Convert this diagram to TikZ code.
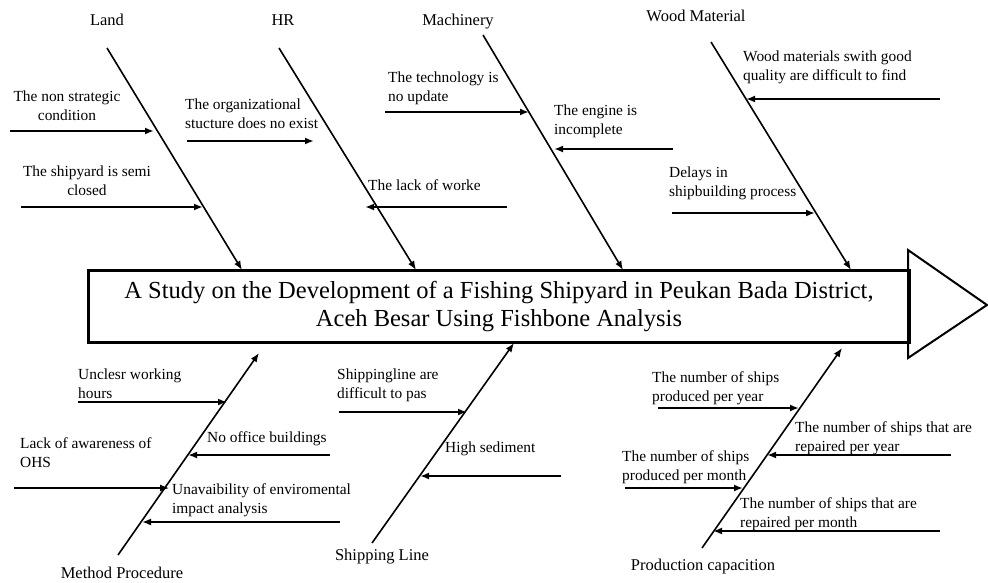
\documentclass[tikz,border=0pt]{standalone}
\usepackage{fontspec}
\setmainfont{Liberation Serif}
\usetikzlibrary{arrows.meta}
\begin{document}
\begin{tikzpicture}[x=1pt,y=-1pt,
  bone/.style={line width=1.6pt,-{Latex[length=9pt,width=7pt]}},
  sub/.style={line width=1.8pt,-{Latex[length=9pt,width=7pt]}},
  lbl/.style={font=\fontsize{15.4}{19}\selectfont,inner sep=0pt,align=left,anchor=west},
  clbl/.style={font=\fontsize{15.4}{19}\selectfont,inner sep=0pt,align=center},
  cat/.style={font=\fontsize{16.5}{19}\selectfont,inner sep=0pt}]
\useasboundingbox (0,0) rectangle (988,583);
% head
\node[draw,line width=3pt,minimum width=821pt,minimum height=72pt,inner sep=0pt,anchor=north west,
  align=center,font=\fontsize{24.5}{28}\selectfont] (box) at (87,269)
  {A Study on the Development of a Fishing Shipyard in Peukan Bada District,\\Aceh Besar Using Fishbone Analysis};
\coordinate (t1) at (908,250); \coordinate (t2) at (987,305); \coordinate (t3) at (908,358);
\draw[line width=2pt,line join=miter] (t1) -- (t2) -- (t3) -- cycle;
% category labels
\node[cat] (land) at (107,20) {Land};
\node[cat] (hr) at (283,20) {HR};
\node[cat] (mach) at (458,22) {Machinery};
\node[cat] (wood) at (696,16) {Wood Material};
\node[cat] (meth) at (122,573) {Method Procedure};
\node[cat] (ship) at (382,557) {Shipping Line};
\node[cat] (prod) at (703,567) {Production capacition};
% bones
\coordinate (b1s) at (107,48);  \coordinate (b1e) at (242,270);
\coordinate (b2s) at (279,48);  \coordinate (b2e) at (416,270);
\coordinate (b3s) at (483,35);  \coordinate (b3e) at (623,270);
\coordinate (b4s) at (711,42);  \coordinate (b4e) at (851,270);
\coordinate (b5s) at (118,555); \coordinate (b5e) at (259,353);
\coordinate (b6s) at (372,543); \coordinate (b6e) at (514,343);
\coordinate (b7s) at (702,548); \coordinate (b7e) at (842,348);
\draw[bone] (b1s) -- (b1e);
\draw[bone] (b2s) -- (b2e);
\draw[bone] (b3s) -- (b3e);
\draw[bone] (b4s) -- (b4e);
\draw[bone] (b5s) -- (b5e);
\draw[bone] (b6s) -- (b6e);
\draw[bone] (b7s) -- (b7e);
% Land causes
\node[clbl] (c1) at (67,106) {The non strategic\\condition};
\coordinate (a1s) at (10,131); \coordinate (a1e) at (154,131);
\draw[sub] (a1s) -- (a1e);
\node[clbl] (c2) at (87,181) {The shipyard is semi\\closed};
\coordinate (a2s) at (21,207); \coordinate (a2e) at (203,207);
\draw[sub] (a2s) -- (a2e);
% HR causes
\node[lbl] (c3) at (185,114) {The organizational\\stucture does no exist};
\coordinate (a3s) at (187,141); \coordinate (a3e) at (314,141);
\draw[sub] (a3s) -- (a3e);
\node[lbl] (c4) at (368,185) {The lack of worke};
\coordinate (a4s) at (507,207); \coordinate (a4e) at (365,207);
\draw[sub] (a4s) -- (a4e);
% Machinery causes
\node[lbl] (c5) at (388,88) {The technology is\\no update};
\coordinate (a5s) at (385,112); \coordinate (a5e) at (529,112);
\draw[sub] (a5s) -- (a5e);
\node[lbl] (c6) at (554,121) {The engine is\\incomplete};
\coordinate (a6s) at (673,149); \coordinate (a6e) at (554,149);
\draw[sub] (a6s) -- (a6e);
% Wood causes
\node[lbl] (c7) at (743,67) {Wood materials swith good\\quality are difficult to find};
\coordinate (a7s) at (940,99); \coordinate (a7e) at (746,99);
\draw[sub] (a7s) -- (a7e);
\node[lbl] (c8) at (669,183) {Delays in\\shipbuilding process};
\coordinate (a8s) at (672,213); \coordinate (a8e) at (815,213);
\draw[sub] (a8s) -- (a8e);
% Method causes
\node[lbl] (c9) at (78,384) {Unclesr working\\hours};
\coordinate (a9s) at (78,402); \coordinate (a9e) at (227,402);
\draw[sub] (a9s) -- (a9e);
\node[lbl] (c10) at (207,439) {No office buildings};
\coordinate (a10s) at (330,455); \coordinate (a10e) at (188,455);
\draw[sub] (a10s) -- (a10e);
\node[lbl] (c11) at (20,453) {Lack of awareness of\\OHS};
\coordinate (a11s) at (14,488); \coordinate (a11e) at (169,488);
\draw[sub,line width=1.2pt] (a11s) -- (a11e);
\node[lbl] (c12) at (172,500) {Unavaibility of enviromental\\impact analysis};
\coordinate (a12s) at (340,522); \coordinate (a12e) at (142,522);
\draw[sub] (a12s) -- (a12e);
% Shipping causes
\node[lbl] (c13) at (337,385) {Shippingline are\\difficult to pas};
\coordinate (a13s) at (339,412); \coordinate (a13e) at (467,412);
\draw[sub] (a13s) -- (a13e);
\node[lbl] (c14) at (445,449) {High sediment};
\coordinate (a14s) at (561,476); \coordinate (a14e) at (420,476);
\draw[sub] (a14s) -- (a14e);
% Production causes
\node[lbl] (c15) at (652,388) {The number of ships\\produced per year};
\coordinate (a15s) at (658,408); \coordinate (a15e) at (799,408);
\draw[sub] (a15s) -- (a15e);
\node[lbl] (c16) at (795,438) {The number of ships that are\\repaired per year};
\coordinate (a16s) at (951,455); \coordinate (a16e) at (767,455);
\draw[sub] (a16s) -- (a16e);
\node[lbl] (c17) at (622,467) {The number of ships\\produced per month};
\coordinate (a17s) at (625,488); \coordinate (a17e) at (743,488);
\draw[sub] (a17s) -- (a17e);
\node[lbl] (c18) at (740,514) {The number of ships that are\\repaired per month};
\coordinate (a18s) at (940,531); \coordinate (a18e) at (713,531);
\draw[sub] (a18s) -- (a18e);
\end{tikzpicture}
\end{document}
